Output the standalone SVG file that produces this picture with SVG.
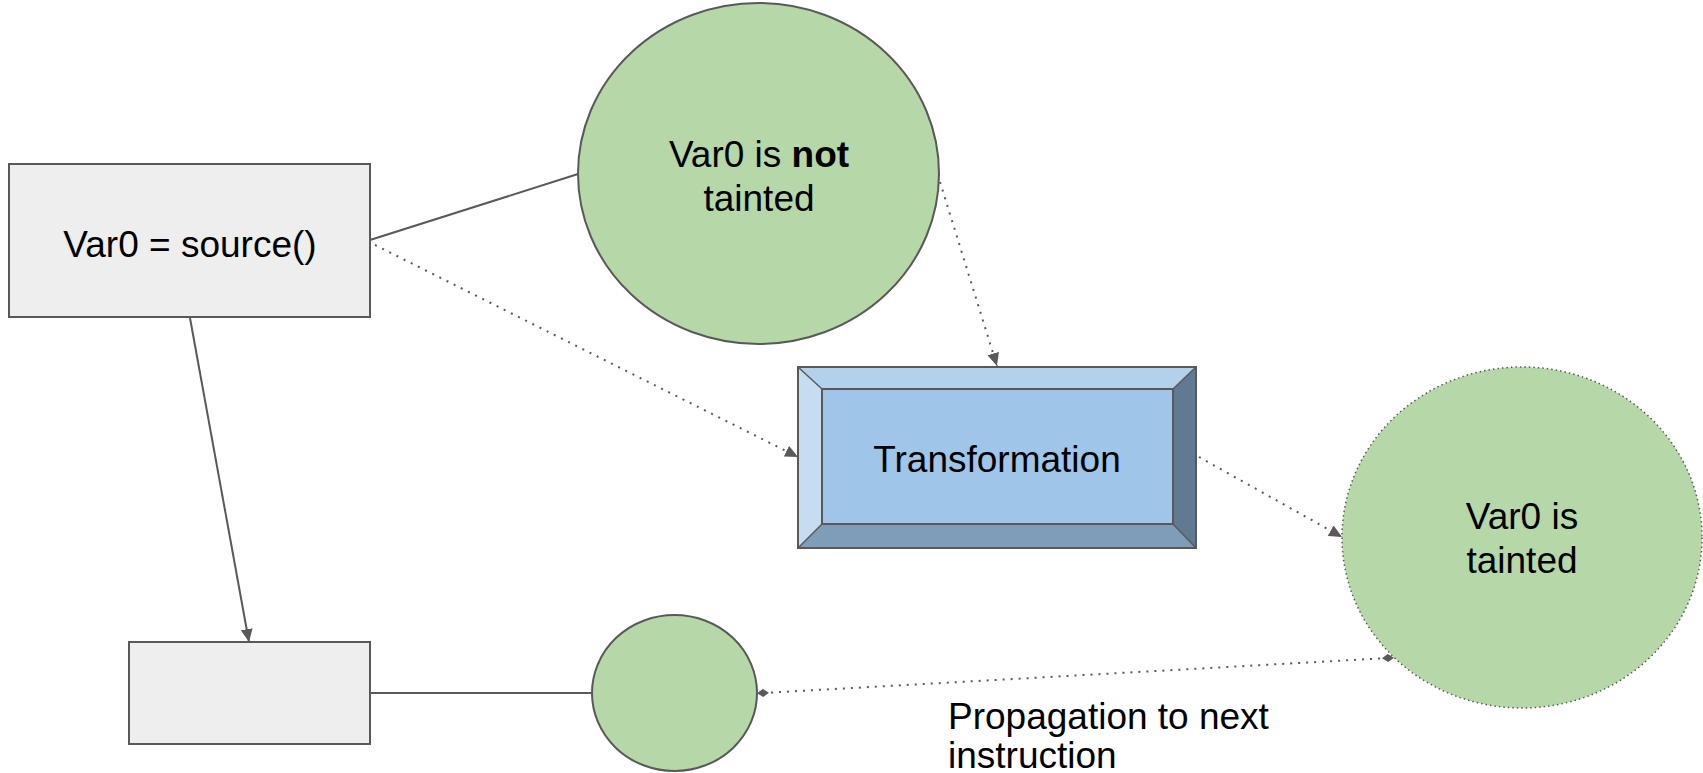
<svg xmlns="http://www.w3.org/2000/svg" width="1703" height="773" viewBox="0 0 1703 773">
  <style>
    .lbl { font-family: "Liberation Sans", Arial, sans-serif; font-size: 37px; fill: #000000; }
    .box { fill: #eeeeee; stroke: #595959; stroke-width: 2; }
    .blob { fill: #b6d7a8; stroke: #595959; stroke-width: 2; }
    .edge { fill: none; stroke: #595959; stroke-width: 2; }
    .dots { fill: none; stroke: #595959; stroke-width: 2; stroke-dasharray: 2 6; }
  </style>
  <defs>
    <marker id="arrow" markerUnits="userSpaceOnUse" markerWidth="14" markerHeight="12" refX="13" refY="6" orient="auto">
      <path d="M0,0 L13,6 L0,12 Z" fill="#595959"/>
    </marker>
    <marker id="diamond" markerUnits="userSpaceOnUse" markerWidth="12" markerHeight="10" refX="6" refY="5" orient="auto">
      <path d="M0,5 L6,1 L12,5 L6,9 Z" fill="#595959"/>
    </marker>
  </defs>

  <rect width="1703" height="773" fill="#ffffff"/>

  <!-- connectors -->
  <g id="connectors">
    <line class="edge" x1="370" y1="240" x2="578" y2="174"/>
    <line class="dots" x1="375" y1="245" x2="798" y2="457" marker-end="url(#arrow)"/>
    <line class="dots" x1="940" y1="182" x2="997" y2="366" marker-end="url(#arrow)"/>
    <line class="dots" x1="1199" y1="457" x2="1342" y2="537" marker-end="url(#arrow)"/>
    <line class="edge" x1="190" y1="318" x2="249" y2="642" marker-end="url(#arrow)"/>
    <line class="edge" x1="370" y1="693" x2="592" y2="693"/>
    <line class="dots" x1="763" y1="693" x2="1388" y2="658" marker-start="url(#diamond)" marker-end="url(#diamond)"/>
  </g>

  <!-- source statement -->
  <g id="source">
    <rect class="box" x="9" y="164" width="361" height="153"/>
    <text class="lbl" x="190" y="257" text-anchor="middle">Var0 = source()</text>
  </g>

  <!-- state before transformation -->
  <g id="not-tainted">
    <ellipse class="blob" cx="758.5" cy="173.5" rx="180.5" ry="170.5"/>
    <text class="lbl" x="759" y="167" text-anchor="middle">Var0 is <tspan font-weight="bold">not</tspan></text>
    <text class="lbl" x="759" y="211" text-anchor="middle">tainted</text>
  </g>

  <!-- bevelled transformation block -->
  <g id="transformation">
    <polygon points="798,367 1196,367 1173,389 822,389" fill="#b4d1ec"/>
    <polygon points="798,367 822,389 822,524 798,548" fill="#c6ddf1"/>
    <polygon points="1196,367 1196,548 1173,524 1173,389" fill="#5f7a92"/>
    <polygon points="798,548 822,524 1173,524 1196,548" fill="#7f9db9"/>
    <rect x="822" y="389" width="351" height="135" fill="#9fc5e8" stroke="#595959" stroke-width="2"/>
    <g stroke="#595959" stroke-width="1.5">
      <line x1="798" y1="367" x2="822" y2="389"/>
      <line x1="1196" y1="367" x2="1173" y2="389"/>
      <line x1="798" y1="548" x2="822" y2="524"/>
      <line x1="1196" y1="548" x2="1173" y2="524"/>
    </g>
    <rect x="798" y="367" width="398" height="181" fill="none" stroke="#595959" stroke-width="2"/>
    <text class="lbl" x="997" y="472" text-anchor="middle">Transformation</text>
  </g>

  <!-- state after transformation -->
  <g id="tainted">
    <ellipse cx="1522" cy="537.5" rx="180" ry="170.5" fill="#b6d7a8" stroke="#595959" stroke-width="1.5" stroke-dasharray="1.5 3"/>
    <text class="lbl" x="1522" y="529" text-anchor="middle">Var0 is</text>
    <text class="lbl" x="1522" y="573" text-anchor="middle">tainted</text>
  </g>

  <!-- next instruction -->
  <g id="next-instruction">
    <rect class="box" x="129" y="642" width="241" height="102"/>
  </g>

  <g id="next-state">
    <ellipse class="blob" cx="674.5" cy="693" rx="82.5" ry="78"/>
  </g>

  <g id="propagation-label">
    <text class="lbl" x="948" y="729">Propagation to next</text>
    <text class="lbl" x="948" y="768">instruction</text>
  </g>
</svg>
